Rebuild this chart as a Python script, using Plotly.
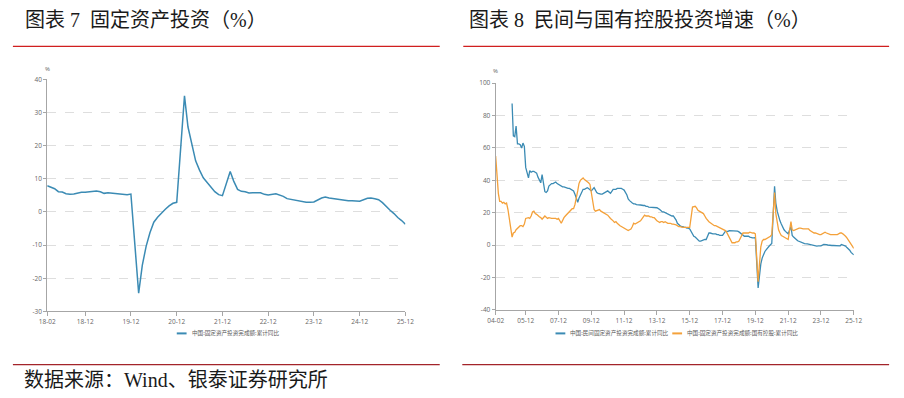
import plotly.graph_objects as go

# ---------------- data ----------------
# Chart 7: fixed-asset investment, cumulative YoY (%), Feb-Dec each year
fai_years = list(range(2018, 2026))
fai_yoy = [
    7.9, 7.5, 7.0, 6.1, 6.0, 5.5, 5.3, 5.4, 5.7, 5.9, 5.9,          # 2018
    6.1, 6.3, 6.1, 5.6, 5.8, 5.7, 5.5, 5.4, 5.2, 5.2, 5.4,          # 2019
    -24.5, -16.1, -10.3, -6.3, -3.1, -1.6, -0.3, 0.8, 1.8, 2.6, 2.9,  # 2020
    35.0, 25.6, 19.9, 15.4, 12.6, 10.3, 8.9, 7.3, 6.1, 5.2, 4.9,    # 2021
    12.2, 9.3, 6.8, 6.2, 6.1, 5.7, 5.8, 5.9, 5.8, 5.3, 5.1,         # 2022
    5.5, 5.1, 4.7, 4.0, 3.8, 3.4, 3.2, 3.1, 2.9, 2.9, 3.0,          # 2023
    4.2, 4.5, 4.2, 4.0, 3.9, 3.6, 3.4, 3.4, 3.4, 3.3, 3.2,          # 2024
    4.1, 4.2, 4.0, 3.7, 2.8, 1.6, 0.5, -0.5, -1.7, -2.6, -3.7,      # 2025
]
fai_ticks = ["18-02", "18-12", "19-12", "20-12", "21-12", "22-12", "23-12", "24-12", "25-12"]
fai_yticks = [40, 30, 20, 10, 0, -10, -20, -30]
fai_name = "中国:固定资产投资完成额:累计同比"

# Chart 8: private vs state-holding investment, cumulative YoY (%), Feb-Dec each year
inv_years = list(range(2004, 2026))
private_yoy = [
    None, None, None, None, None, None, None, None, None, None, None,  # 2004
    87.5, 67.5, 67, 73.5, 62.5, 62.5, 62, 60, 63, 61, 48,             # 2005
    41.5, 46, 45, 45.5, 45.5, 45, 44.5, 42, 40.5, 38.5, 43.5,         # 2006
    33, 32.5, 33.5, 36.5, 37.5, 38, 38, 38.5, 39, 38, 37.5,           # 2007
    36.5, 36, 36, 35.5, 35.5, 35, 35, 34.5, 34.5, 33.5, 31.5,         # 2008
    26.5, 29, 31, 33, 34.5, 34.5, 35, 35.5, 35, 34, 33.5,             # 2009
    35.5, 33.5, 32.5, 32, 31.5, 31.5, 31.5, 32, 32.5, 33, 33.5,       # 2010
    32, 33, 34.5, 34.5, 34.5, 35, 35, 35, 35, 34.5, 34,               # 2011
    31, 28.5, 27.5, 26.5, 26, 25.5, 25.5, 25, 25, 25, 24.8,           # 2012
    24.5, 24.5, 24, 24, 23.5, 23.5, 23.5, 23.5, 23.5, 23.5, 23.1,     # 2013
    22, 21, 20.5, 20.5, 20, 19.5, 19.5, 18.5, 18, 18, 18,             # 2014
    15.5, 13.5, 12.5, 12, 11.5, 11.5, 11, 11, 10.5, 10.5, 10,         # 2015
    7, 5.5, 5, 4, 3, 2.5, 2.5, 3, 3, 3.5, 3.5,                         # 2016
    7.5, 7.5, 7, 7, 7, 7, 6.5, 6.5, 6, 6, 6,                           # 2017
    8.5, 8.5, 8.5, 9, 9, 9, 9, 9, 9, 8.7, 8.2,                         # 2018
    7, 6.5, 5.5, 5.5, 5.5, 5.5, 5, 4.5, 4.5, 4.5, 4.7,                 # 2019
    -26.4, -19, -11.6, -8, -5.7, -3.9, -2.8, -1.5, -0.7, 0.2, 1,      # 2020
    36.4, 26, 21, 17.5, 15, 13, 11, 9.5, 8.5, 7.5, 7,                  # 2021
    11.5, 6, 5, 4, 3.5, 2.7, 2.3, 2, 1.5, 1.2, 0.9,                    # 2022
    0.8, 0.6, 0.4, -0.1, -0.2, -0.5, -0.7, -0.6, -0.5, -0.5, -0.4,     # 2023
    0.4, 0.5, 0.3, 0.1, -0.1, -0.2, -0.2, -0.2, -0.3, -0.4, -0.1,      # 2024
    -0.4, 0.4, 0.2, 0, -0.6, -1.5, -2.3, -3.1, -4.5, -5.3, -6,         # 2025
]
soe_yoy = [
    55, 42, 32, 27, 27, 26, 26.5, 25.5, 26, 22, 17,                    # 2004
    5, 7.5, 8, 9.5, 10.5, 11, 12, 12, 11.5, 13, 16.5,                  # 2005
    17, 16.5, 18, 20.5, 21, 19.5, 19, 18, 17.5, 17, 16,                # 2006
    18, 17, 16.5, 17, 16.5, 16.5, 16.5, 16.5, 16.5, 16, 16.5,          # 2007
    13.5, 15.5, 17, 18, 19, 19.5, 21, 22, 22.5, 22.5, 25,              # 2008
    33.5, 38, 40, 41, 41.5, 40.5, 40, 39.5, 38.5, 37.5, 33,            # 2009
    22, 21, 21.5, 21.5, 22, 21, 20.5, 20, 19.5, 19, 18.5,              # 2010
    16.5, 16, 15, 14, 14.5, 13.5, 12.5, 12, 11.5, 11, 10,              # 2011
    9, 9, 9.5, 10, 11.5, 13.5, 13, 13.5, 14, 14.5, 15,                 # 2012
    17.5, 18.5, 18, 18, 18, 17.5, 17.5, 17, 17, 16, 15,                # 2013
    14, 14.5, 14.5, 14, 14.5, 14, 13.5, 13.5, 13.5, 13, 13,            # 2014
    12.5, 12, 11.5, 11.5, 11, 11, 11, 11, 11, 11, 11,                  # 2015
    23.5, 24, 24, 23, 21.5, 21, 20.5, 20, 19.5, 18, 16.5,              # 2016
    14.5, 14, 13, 12.5, 12, 12, 11.5, 11, 11, 10.5, 10,                # 2017
    9, 8, 6.5, 4.5, 3, 1.5, 1.5, 1.5, 2, 2, 2.5,                       # 2018
    6.5, 7.5, 7.5, 7.5, 7.5, 7.5, 8, 7.5, 7.5, 7.5, 7,                 # 2019
    -22.5, -9, -1, 2.5, 3.5, 3.5, 4, 4.5, 5, 5.5, 6.5,                 # 2020
    32.5, 19.5, 12.5, 9.5, 7.5, 6, 5.5, 5, 4.5, 4, 3.5,                # 2021
    14.5, 9.5, 9, 9.5, 10, 10.5, 10.5, 10.5, 10, 10, 10,               # 2022
    10, 10, 9, 8.5, 8, 7.5, 7.5, 7, 7, 6.5, 6.5,                       # 2023
    7.5, 8, 7.5, 7, 7, 6.5, 6.5, 6.5, 6.5, 6.5, 6.5,                   # 2024
    7.5, 7.5, 7, 6.5, 5.5, 4.5, 3, 1.5, 0.5, -1, -2,                   # 2025
]
inv_ticks = ["04-02", "05-12", "07-12", "09-12", "11-12", "13-12", "15-12",
             "17-12", "19-12", "21-12", "23-12", "25-12"]
inv_yticks = [100, 80, 60, 40, 20, 0, -20, -40]
private_name = "中国:民间固定资产投资完成额:累计同比"
soe_name = "中国:固定资产投资完成额:国有控股:累计同比"

title_left = "图表 7  固定资产投资（%）"
title_right = "图表 8  民间与国有控股投资增速（%）"
source_text = "数据来源：Wind、银泰证券研究所"

# ---------------- helpers ----------------
W, H = 904, 398


def px(x):
    return x / W


def py(y):
    return 1 - y / H


def month_dates(years):
    return [f"{y}-{m:02d}-01" for y in years for m in range(2, 13)]


def tick_date(lbl):
    yy, mm = lbl.split("-")
    return f"20{yy}-{mm}-01"


BLUE = "#3b8bb4"
ORANGE = "#f4a13a"
AXIS = "#a6a6a6"
GRID = "#dedede"
TICKC = "#666666"
TICKFONT = dict(family="Open Sans, Noto Sans CJK SC, sans-serif", size=6.5, color=TICKC)
CJK = "Liberation Serif, Noto Sans CJK SC, serif"

fai_dates = month_dates(fai_years)
inv_dates = month_dates(inv_years)

fig = go.Figure()
fig.add_trace(go.Scatter(x=fai_dates, y=fai_yoy, mode="lines", name=fai_name,
                         line=dict(color=BLUE, width=1.5), xaxis="x", yaxis="y",
                         showlegend=False, connectgaps=True))
fig.add_trace(go.Scatter(x=inv_dates, y=private_yoy, mode="lines", name=private_name,
                         line=dict(color=BLUE, width=1.3), xaxis="x2", yaxis="y2",
                         showlegend=False))
fig.add_trace(go.Scatter(x=inv_dates, y=soe_yoy, mode="lines", name=soe_name,
                         line=dict(color=ORANGE, width=1.3), xaxis="x2", yaxis="y2",
                         showlegend=False))


def xaxis_cfg(dom, anchor, dates, ticks):
    return dict(domain=dom, anchor=anchor, type="date",
                range=[dates[0], dates[-1]],
                tickmode="array", tickvals=[tick_date(t) for t in ticks], ticktext=ticks,
                ticks="outside", ticklen=4, tickcolor=AXIS, tickwidth=1,
                showline=True, linecolor=AXIS, linewidth=1,
                showgrid=False, zeroline=False, tickfont=TICKFONT, fixedrange=True)


def yaxis_cfg(dom, anchor, yt):
    return dict(domain=dom, anchor=anchor, range=[min(yt), max(yt)],
                tickmode="array", tickvals=yt, ticktext=[str(v) for v in yt],
                ticks="outside", ticklen=3, tickcolor=AXIS, tickwidth=1,
                showline=True, linecolor=AXIS, linewidth=1,
                showgrid=True, gridcolor=GRID, griddash="dash", gridwidth=0.8,
                zeroline=False, tickfont=TICKFONT, fixedrange=True)


fig.update_layout(
    width=W, height=H, autosize=False,
    margin=dict(l=0, r=0, t=0, b=0),
    paper_bgcolor="white", plot_bgcolor="white",
    showlegend=False,
    xaxis=xaxis_cfg([px(40), px(405)], "y", fai_dates, fai_ticks),
    yaxis=yaxis_cfg([py(313.5), py(76)], "x", fai_yticks),
    xaxis2=xaxis_cfg([px(497), px(862)], "y2", inv_dates, inv_ticks),
    yaxis2=yaxis_cfg([py(312), py(80)], "x2", inv_yticks),
)

shapes = [
    # red rules under the titles
    dict(type="line", xref="paper", yref="paper", x0=px(5), x1=px(440), y0=py(42.3), y1=py(42.3),
         line=dict(color="#d01f1f", width=1.3)),
    dict(type="line", xref="paper", yref="paper", x0=px(464), x1=px(898), y0=py(42.3), y1=py(42.3),
         line=dict(color="#d01f1f", width=1.3)),
    # dark red rules above source
    dict(type="line", xref="paper", yref="paper", x0=px(5), x1=px(440), y0=py(368), y1=py(368),
         line=dict(color="#a3242a", width=1.3)),
    dict(type="line", xref="paper", yref="paper", x0=px(463), x1=px(898), y0=py(368), y1=py(368),
         line=dict(color="#a3242a", width=1.3)),
    # legend keys
    dict(type="line", xref="paper", yref="paper", x0=px(172), x1=px(182), y0=py(336), y1=py(336),
         line=dict(color=BLUE, width=2)),
    dict(type="line", xref="paper", yref="paper", x0=px(558), x1=px(568), y0=py(336), y1=py(336),
         line=dict(color=BLUE, width=2)),
    dict(type="line", xref="paper", yref="paper", x0=px(677), x1=px(687), y0=py(336), y1=py(336),
         line=dict(color=ORANGE, width=2)),
]

LEGFONT = dict(family="Noto Sans CJK SC, sans-serif", size=5.6, color="#595959")
TFONT = dict(family=CJK, size=20, color="#1a1a1a")
annotations = [
    dict(text=title_left, x=px(15), y=py(15), xref="paper", yref="paper", xanchor="left",
         yanchor="middle", showarrow=False, font=TFONT),
    dict(text=title_right, x=px(468), y=py(15), xref="paper", yref="paper", xanchor="left",
         yanchor="middle", showarrow=False, font=TFONT),
    dict(text=source_text, x=px(14), y=py(384), xref="paper", yref="paper", xanchor="left",
         yanchor="middle", showarrow=False, font=TFONT),
    dict(text="%", x=px(40), y=py(65), xref="paper", yref="paper", xanchor="center",
         yanchor="middle", showarrow=False, font=dict(family="Open Sans", size=6, color=TICKC)),
    dict(text="%", x=px(497), y=py(68), xref="paper", yref="paper", xanchor="center",
         yanchor="middle", showarrow=False, font=dict(family="Open Sans", size=6, color=TICKC)),
    dict(text=fai_name, x=px(185), y=py(336), xref="paper", yref="paper", xanchor="left",
         yanchor="middle", showarrow=False, font=LEGFONT),
    dict(text=private_name, x=px(571), y=py(336), xref="paper", yref="paper", xanchor="left",
         yanchor="middle", showarrow=False, font=LEGFONT),
    dict(text=soe_name, x=px(690), y=py(336), xref="paper", yref="paper", xanchor="left",
         yanchor="middle", showarrow=False, font=LEGFONT),
]
fig.update_layout(shapes=shapes, annotations=annotations)

fig.write_html("out.html", config={"displayModeBar": False},
               post_script="document.body.style.margin='0';document.body.style.overflow='hidden';")
